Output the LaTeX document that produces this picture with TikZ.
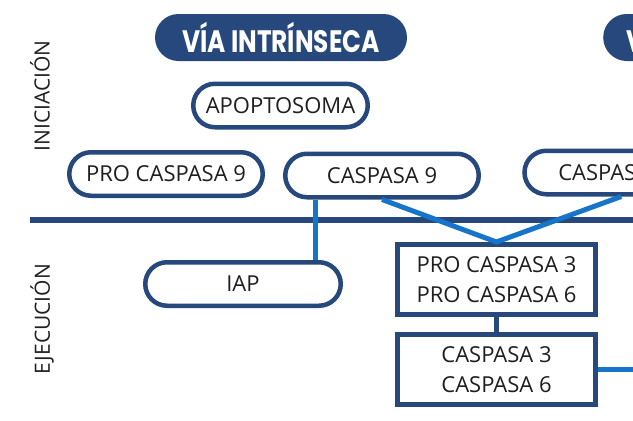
\documentclass[tikz,border=0pt]{standalone}
\usepackage{fontspec}
\setmainfont{Open Sans}
\newfontfamily\titulofont{Poppins}
\definecolor{marino}{RGB}{38,72,124}
\definecolor{azul}{RGB}{22,117,201}

\tikzset{
  pastilla/.style={draw=marino, line width=4.5pt, fill=white, rounded corners=21.75pt,
    minimum height=43.5pt, inner sep=0pt, text=black!88, font=\fontsize{22}{26}\selectfont},
  titulo/.style={fill=marino, rounded corners=23.5pt, minimum height=47pt, inner sep=0pt,
    text=white, font=\titulofont\bfseries\fontsize{31}{31}\selectfont},
  caja/.style={draw=marino, line width=5pt, fill=white, minimum width=198pt, minimum height=70pt,
    inner sep=0pt, align=center, text=black!88, font=\fontsize{22}{30}\selectfont},
  enlace/.style={draw=azul, line width=5pt},
  fase/.style={rotate=90, text=black!88, font=\fontsize{21}{25}\selectfont},
}

\begin{document}
\begin{tikzpicture}[x=1pt,y=-1pt]
    \useasboundingbox (0,0) rectangle (633,421);
    \clip (0,0) rectangle (633,421);

    % titulos de las vias
    \node[titulo, minimum width=252pt] (intr) at (281,37.5) {\scalebox{0.8}[1]{VÍA INTRÍNSECA}};
    \node[titulo, anchor=west, inner xsep=23pt] (extr) at (603,37.5) {\scalebox{0.8}[1]{VÍA EXTRÍNSECA}};

    % fases
    \node[fase] (ini) at (40,96) {INICIACIÓN};
    \node[fase] (eje) at (42,319) {EJECUCIÓN};

    % linea divisoria
    \coordinate (izq) at (30,220);
    \coordinate (der) at (640,220);
    \draw[marino, line width=6.5pt] (izq) -- (der);

    % iniciacion
    \node[pastilla, minimum width=174.5pt] (apop) at (280.5,105.5) {APOPTOSOMA};
    \node[pastilla, minimum width=193.5pt] (pro9) at (166,174) {PRO CASPASA 9};
    \node[pastilla, minimum width=193.5pt] (cas9) at (382,175.5) {CASPASA 9};
    \node[pastilla, minimum width=193.5pt, anchor=west, text width=160pt, inner xsep=0pt] (cas8) at (522.25,172.5) {\hspace*{17pt}CASPASA 8};

    % ejecucion
    \node[pastilla, minimum width=195.5pt] (iap) at (243,284) {IAP};
    \node[caja] (pro36) at (496.5,279.5) {PRO CASPASA 3\\PRO CASPASA 6};
    \node[caja] (cas36) at (496.5,369.5) {CASPASA 3\\CASPASA 6};

    % conexiones
    \coordinate (col) at (315,0);
    \coordinate (salida) at (640,369.5);
    \draw[enlace] (cas9.south -| col) -- (iap.north -| col);
    \draw[enlace] (cas9.south) -- (pro36.north) -- (cas8.south);
    \draw[marino, line width=5pt] (pro36.south) -- (cas36.north);
    \draw[enlace] (cas36.east) -- (salida);
\end{tikzpicture}
\end{document}
